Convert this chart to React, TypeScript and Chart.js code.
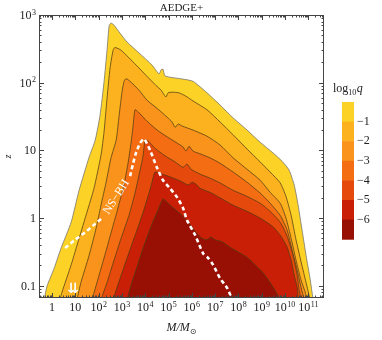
import React, { useEffect, useRef } from 'react';
import { Chart, registerables } from 'chart.js';

Chart.register(...registerables);

// ---- data (log10 M, log10 z) ----
const TITLE = 'AEDGE+';
const X_LOG_MIN = -0.56;
const X_LOG_MAX = 11.67;
const Y_LOG_MIN = -1.18;
const Y_LOG_MAX = 3;
const X_TICK_EXPS = [0, 1, 2, 3, 4, 5, 6, 7, 8, 9, 10, 11];
const Y_TICK_EXPS = [-1, 0, 1, 2, 3];
const Q_LEVELS = [-1, -2, -3, -4, -5, -6];
const BAND_COLORS = ['#FDD226', '#FBB21E', '#F9931B', '#F56D13', '#E5490B', '#C91F06', '#981004'];

const CONTOUR_0 = [[-0.34,-1.2],[-0.21,-1.0],[0.09,-0.74],[0.39,-0.44],[0.82,-0.06],[1.16,0.41],[1.59,0.9],[1.85,1.15],[2.06,1.52],[2.23,2.01],[2.36,2.48],[2.45,2.84],[2.53,2.88],[2.66,2.85],[2.92,2.73],[3.22,2.6],[3.73,2.44],[4.29,2.26],[4.59,2.13],[4.68,2.19],[4.76,2.2],[4.85,2.1],[5.28,2.07],[5.67,2.05],[6.05,2.02],[6.65,1.85],[7.21,1.67],[7.77,1.48],[8.37,1.3],[8.93,1.12],[9.49,0.96],[9.87,0.84],[10.17,0.71],[10.39,0.49],[10.56,0.19],[10.73,-0.18],[10.9,-0.55],[11.07,-0.89],[11.2,-1.2]];
const CONTOUR_1 = [[0.34,-1.2],[0.43,-1.09],[0.82,-0.69],[1.16,-0.3],[1.5,0.09],[1.8,0.44],[2.1,0.93],[2.23,1.27],[2.36,1.77],[2.49,2.22],[2.62,2.48],[2.7,2.52],[2.96,2.48],[3.61,2.26],[4.03,2.11],[4.46,1.96],[4.68,1.89],[4.81,1.82],[4.89,1.79],[4.98,1.85],[5.15,1.86],[5.45,1.85],[5.75,1.8],[6.05,1.73],[6.65,1.6],[7.21,1.42],[7.77,1.23],[8.37,1.02],[8.93,0.83],[9.36,0.68],[9.79,0.52],[10.04,0.32],[10.26,0.04],[10.47,-0.32],[10.69,-0.65],[10.9,-0.95],[11.07,-1.2]];
const CONTOUR_2 = [[1.07,-1.2],[1.24,-0.95],[1.59,-0.55],[1.89,-0.15],[2.1,0.19],[2.32,0.53],[2.53,0.89],[2.75,1.15],[2.88,1.52],[3.0,1.86],[3.09,2.02],[3.18,2.06],[3.35,2.02],[3.73,1.89],[4.08,1.74],[4.51,1.62],[4.94,1.49],[5.15,1.42],[5.28,1.34],[5.41,1.39],[5.58,1.36],[6.05,1.3],[6.65,1.21],[7.21,1.08],[7.77,0.89],[8.37,0.72],[8.93,0.56],[9.36,0.38],[9.79,0.22],[10.04,0.0],[10.26,-0.3],[10.47,-0.62],[10.69,-0.92],[10.86,-1.09],[10.94,-1.2]];
const CONTOUR_3 = [[1.72,-1.2],[1.93,-0.95],[2.23,-0.59],[2.53,-0.22],[2.83,0.15],[3.09,0.5],[3.26,0.81],[3.39,1.11],[3.48,1.37],[3.56,1.6],[3.69,1.57],[4.08,1.43],[4.51,1.3],[4.94,1.2],[5.36,1.11],[5.62,1.05],[5.75,0.99],[5.88,1.06],[6.05,0.99],[6.35,0.95],[6.78,0.89],[7.21,0.81],[7.77,0.68],[8.37,0.53],[8.93,0.37],[9.36,0.22],[9.79,0.04],[10.09,-0.18],[10.3,-0.47],[10.52,-0.77],[10.69,-1.03],[10.82,-1.2]];
const CONTOUR_4 = [[2.1,-1.2],[2.36,-0.95],[2.66,-0.62],[2.96,-0.3],[3.3,0.04],[3.56,0.37],[3.78,0.71],[3.91,0.93],[3.95,1.06],[3.99,1.15],[4.12,1.14],[4.42,1.03],[4.85,0.92],[5.28,0.83],[5.62,0.75],[5.79,0.8],[5.97,0.72],[6.35,0.65],[6.78,0.59],[7.21,0.52],[7.77,0.41],[8.37,0.32],[8.93,0.22],[9.36,0.1],[9.79,-0.06],[10.09,-0.27],[10.34,-0.55],[10.52,-0.84],[10.6,-1.06],[10.69,-1.2]];
const CONTOUR_5 = [[2.62,-1.2],[2.92,-0.89],[3.26,-0.55],[3.61,-0.21],[3.91,0.09],[4.16,0.37],[4.29,0.53],[4.42,0.68],[4.72,0.65],[5.06,0.61],[5.49,0.55],[5.84,0.49],[6.01,0.53],[6.18,0.5],[6.35,0.44],[6.78,0.38],[7.21,0.3],[7.77,0.19],[8.37,0.1],[8.93,0.0],[9.49,-0.13],[9.83,-0.27],[10.09,-0.43],[10.26,-0.62],[10.39,-0.84],[10.52,-1.03],[10.56,-1.2]];
const CONTOUR_6 = [[3.22,-1.2],[3.39,-0.99],[3.56,-0.81],[3.91,-0.44],[4.25,-0.12],[4.51,0.09],[4.76,0.28],[4.98,0.22],[5.28,0.13],[5.58,0.04],[5.92,-0.09],[6.18,-0.21],[6.44,-0.3],[6.65,-0.32],[6.82,-0.28],[7.0,-0.32],[7.3,-0.35],[7.64,-0.43],[8.37,-0.58],[9.06,-0.81],[9.49,-1.02],[9.79,-1.2]];
const CONTOURS = [CONTOUR_0, CONTOUR_1, CONTOUR_2, CONTOUR_3, CONTOUR_4, CONTOUR_5, CONTOUR_6];

const NS_BH_LOWER = [[0.56,-0.44],[0.99,-0.32],[1.42,-0.21],[1.8,-0.1],[2.15,0.0]];
const NS_BH_UPPER = [[3.35,0.62],[3.48,0.81],[3.61,0.97],[3.78,1.11],[3.95,1.17],[4.21,1.0],[4.51,0.74],[4.76,0.56],[5.06,0.44],[5.36,0.31],[5.62,0.15],[5.79,-0.03],[6.14,-0.25],[6.48,-0.52],[6.7,-0.59],[6.91,-0.69],[7.21,-0.89],[7.51,-1.03],[7.73,-1.2]];
const NS_BH_LABEL = 'NS\u2212BH';
const NS_BH_LABEL_POS = [2.76, 0.31];
const NS_BH_LABEL_ANGLE = -57;
const ARROW_POS = [0.9, -1.05];

const SERIF = '"Liberation Serif", "DejaVu Serif", serif';

const toPts = (arr: number[][]) => arr.map(([m, z]) => ({ x: Math.pow(10, m), y: Math.pow(10, z) }));

function drawPow(ctx: CanvasRenderingContext2D, exp: number, x: number, baseline: number, align: 'center' | 'right') {
  let base = '10';
  let sup = '';
  if (exp === -1) base = '0.1';
  else if (exp === 0) base = '1';
  else if (exp >= 2) sup = String(exp);
  ctx.font = `12px ${SERIF}`;
  const bw = ctx.measureText(base).width;
  ctx.font = `8px ${SERIF}`;
  const sw = sup ? ctx.measureText(sup).width + 0.5 : 0;
  const total = bw + sw;
  const x0 = align === 'center' ? x - total / 2 : x - total;
  ctx.textAlign = 'left';
  ctx.textBaseline = 'alphabetic';
  ctx.font = `12px ${SERIF}`;
  ctx.fillText(base, x0, baseline);
  if (sup) {
    ctx.font = `8px ${SERIF}`;
    ctx.fillText(sup, x0 + bw + 0.5, baseline - 4.5);
  }
}

const decorPlugin = {
  id: 'decor',
  afterDatasetsDraw(chart: any) {
    const { ctx, chartArea: a, scales } = chart;
    const xs = scales.x;
    const ys = scales.y;
    ctx.save();

    // NS-BH label and arrows
    ctx.save();
    ctx.translate(xs.getPixelForValue(Math.pow(10, NS_BH_LABEL_POS[0])), ys.getPixelForValue(Math.pow(10, NS_BH_LABEL_POS[1])));
    ctx.rotate((NS_BH_LABEL_ANGLE * Math.PI) / 180);
    ctx.fillStyle = '#ffffff';
    ctx.font = `12px ${SERIF}`;
    ctx.textAlign = 'center';
    ctx.textBaseline = 'middle';
    ctx.fillText(NS_BH_LABEL, 0, 0);
    ctx.restore();

    ctx.fillStyle = '#ffffff';
    ctx.font = 'bold 14px "DejaVu Sans"';
    ctx.textAlign = 'center';
    ctx.textBaseline = 'middle';
    ctx.fillText('\u21CA', xs.getPixelForValue(Math.pow(10, ARROW_POS[0])), ys.getPixelForValue(Math.pow(10, ARROW_POS[1])));

    // frame
    ctx.strokeStyle = '#444';
    ctx.lineWidth = 1;
    ctx.strokeRect(a.left + 0.5, a.top + 0.5, a.right - a.left - 1, a.bottom - a.top - 1);

    // ticks (inward on all sides)
    ctx.beginPath();
    for (let d = Math.floor(X_LOG_MIN); d <= Math.ceil(X_LOG_MAX); d++) {
      for (let k = 1; k <= 9; k++) {
        const lv = Math.log10(k) + d;
        if (lv < X_LOG_MIN || lv > X_LOG_MAX) continue;
        const px = Math.round(xs.getPixelForValue(Math.pow(10, lv))) + 0.5;
        const len = k === 1 ? 5 : 2.5;
        ctx.moveTo(px, a.bottom); ctx.lineTo(px, a.bottom - len);
        ctx.moveTo(px, a.top); ctx.lineTo(px, a.top + len);
      }
    }
    for (let d = Math.floor(Y_LOG_MIN); d <= Math.ceil(Y_LOG_MAX); d++) {
      for (let k = 1; k <= 9; k++) {
        const lv = Math.log10(k) + d;
        if (lv < Y_LOG_MIN || lv > Y_LOG_MAX + 1e-9) continue;
        const py = Math.round(ys.getPixelForValue(Math.pow(10, lv))) + 0.5;
        const len = k === 1 ? 5 : 2.5;
        ctx.moveTo(a.left, py); ctx.lineTo(a.left + len, py);
        ctx.moveTo(a.right, py); ctx.lineTo(a.right - len, py);
      }
    }
    ctx.stroke();

    // tick labels
    ctx.fillStyle = '#222';
    for (const e of X_TICK_EXPS) {
      drawPow(ctx, e, xs.getPixelForValue(Math.pow(10, e)), a.bottom + 13, 'center');
    }
    for (const e of Y_TICK_EXPS) {
      drawPow(ctx, e, a.left - 3, ys.getPixelForValue(Math.pow(10, e)) + 4, 'right');
    }

    // title
    ctx.font = `11px ${SERIF}`;
    ctx.textAlign = 'center';
    ctx.textBaseline = 'alphabetic';
    ctx.fillText(TITLE, (a.left + a.right) / 2, 11);

    // x axis title M/M_sun
    ctx.font = `italic 12px ${SERIF}`;
    const t1 = 'M/M';
    const w1 = ctx.measureText(t1).width;
    ctx.font = `8px "DejaVu Sans"`;
    const w2 = ctx.measureText('\u2299').width;
    const xt0 = (a.left + a.right) / 2 - (w1 + w2) / 2;
    ctx.textAlign = 'left';
    ctx.font = `italic 12px ${SERIF}`;
    ctx.fillText(t1, xt0, 331);
    ctx.font = `8px "DejaVu Sans"`;
    ctx.fillText('\u2299', xt0 + w1, 334);

    // y axis title
    ctx.save();
    ctx.translate(8, (a.top + a.bottom) / 2);
    ctx.rotate(-Math.PI / 2);
    ctx.font = `italic 10px ${SERIF}`;
    ctx.textAlign = 'center';
    ctx.textBaseline = 'middle';
    ctx.fillText('z', 0, 0);
    ctx.restore();

    // colour bar
    const cbL = a.right + 18;
    const cbW = 12;
    const cbT = 102;
    const bandH = 19.6;
    BAND_COLORS.forEach((c, i) => {
      ctx.fillStyle = c;
      ctx.fillRect(cbL, cbT + i * bandH, cbW, bandH + 0.5);
    });
    ctx.fillStyle = '#222';
    ctx.font = `12px ${SERIF}`;
    ctx.textAlign = 'left';
    ctx.textBaseline = 'middle';
    Q_LEVELS.forEach((q, i) => {
      const yy = cbT + (i + 1) * bandH;
      ctx.fillText('\u2212' + Math.abs(q), cbL + cbW + 3, yy);
    });
    // colour bar title log10 q
    ctx.textBaseline = 'alphabetic';
    let tx = 333;
    ctx.font = `12px ${SERIF}`;
    ctx.fillText('log', tx, 92);
    tx += ctx.measureText('log').width;
    ctx.font = `8px ${SERIF}`;
    ctx.fillText('10', tx, 95);
    tx += ctx.measureText('10').width + 0.5;
    ctx.font = `italic 12px ${SERIF}`;
    ctx.fillText('q', tx, 92);

    ctx.restore();
  },
};

export default function App() {
  const ref = useRef<HTMLCanvasElement>(null);
  useEffect(() => {
    if (!ref.current) return;
    const contourSets = CONTOURS.map((c, i) => ({
      data: toPts(c),
      backgroundColor: BAND_COLORS[i],
      borderColor: i === 0 ? 'rgba(120,120,110,0.9)' : 'rgba(80,60,20,0.85)',
      borderWidth: 0.9,
      fill: 'start',
      pointRadius: 0,
      tension: 0.2,
      order: 10 - i,
    }));
    const dashed = [NS_BH_LOWER, NS_BH_UPPER].map((d) => ({
      data: toPts(d),
      borderColor: '#ffffff',
      borderWidth: 2.6,
      borderDash: [4, 3],
      fill: false,
      pointRadius: 0,
      tension: 0.2,
      order: 0,
    }));
    const chart = new Chart(ref.current, {
      type: 'line',
      data: { datasets: [...dashed, ...contourSets] as any },
      options: {
        animation: false,
        responsive: false,
        devicePixelRatio: 1,
        layout: { padding: { left: 0, top: 15, right: 58, bottom: 0 } },
        plugins: { legend: { display: false }, tooltip: { enabled: false }, title: { display: false } },
        scales: {
          x: {
            type: 'logarithmic',
            min: Math.pow(10, X_LOG_MIN),
            max: Math.pow(10, X_LOG_MAX),
            ticks: { display: false },
            grid: { display: false },
            border: { display: false },
            afterFit: (s: any) => { s.height = 42; },
          },
          y: {
            type: 'logarithmic',
            min: Math.pow(10, Y_LOG_MIN),
            max: Math.pow(10, Y_LOG_MAX),
            ticks: { display: false },
            grid: { display: false },
            border: { display: false },
            afterFit: (s: any) => { s.width = 39; },
          },
        },
      } as any,
      plugins: [decorPlugin],
    });
    return () => chart.destroy();
  }, []);
  return (
    <div style={{ position: 'absolute', left: 0, top: 0, width: 382, height: 340, background: '#fff' }}>
      <canvas ref={ref} width={382} height={340} style={{ display: 'block' }} />
    </div>
  );
}
